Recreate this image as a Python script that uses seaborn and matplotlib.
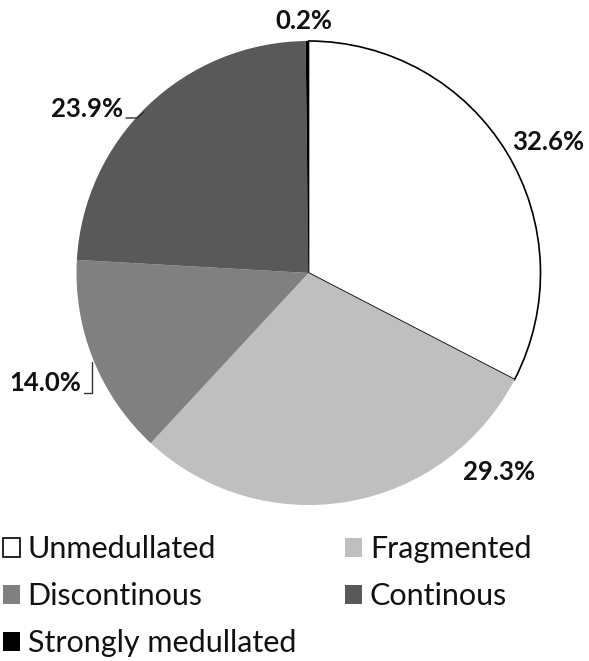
import matplotlib
matplotlib.use('Agg')
import matplotlib.pyplot as plt
import seaborn as sns

categories = ['Unmedullated', 'Fragmented', 'Discontinous', 'Continous', 'Strongly medullated']
shares = [32.6, 29.3, 14.0, 23.9, 0.2]
label_texts = ['32.6%', '29.3%', '14.0%', '23.9%', '0.2%']

sns.set_theme(style='white')
plt.rcParams['font.family'] = ['Lato', 'DejaVu Sans']

colors = ['#ffffff', '#bfbfbf', '#808080', '#595959', '#000000']

fig = plt.figure(figsize=(5.89, 6.61), dpi=100)
ax = fig.add_axes([0, 0, 1, 1])

# axes in pixel units, y downwards -> angles mirror, so start at -90 and go "counterclock"
wedges, _ = ax.pie(shares, colors=colors, startangle=-90, counterclock=True,
                   center=(308.5, 273), radius=232,
                   wedgeprops=dict(edgecolor='none', linewidth=0))
wedges[0].set_edgecolor('black')
wedges[0].set_linewidth(1.2)
ax.set_xlim(0, 589)
ax.set_ylim(661, 0)
ax.set_axis_off()

# data labels, placed the way the original spreadsheet put them
label_pos = [(548, 142), (499, 472), (45, 383), (87, 109), (304, 21)]
for txt, (x, y) in zip(label_texts, label_pos):
    ax.text(x, y, txt, ha='center', va='center', fontsize=18.5,
            fontweight='bold', color='#111111')

# leader lines
ax.plot([126, 137, 144], [118, 118, 112], color='#333333', lw=1)
ax.plot([84, 92, 92], [393, 393, 362], color='#333333', lw=1)

# legend, filled row-wise like the original
order = [0, 2, 4, 1, 3]
leg = ax.legend([wedges[i] for i in order], [categories[i] for i in order],
                ncol=2, loc='upper left', bbox_to_anchor=(0.005, 0.19),
                bbox_transform=fig.transFigure, frameon=False,
                fontsize=22, handlelength=0.56, handleheight=0.56,
                handletextpad=0.25, columnspacing=1.6, labelspacing=0.62,
                borderpad=0, borderaxespad=0)
for t in leg.get_texts():
    t.set_color('#111111')

fig.savefig('out.png', dpi=100)
